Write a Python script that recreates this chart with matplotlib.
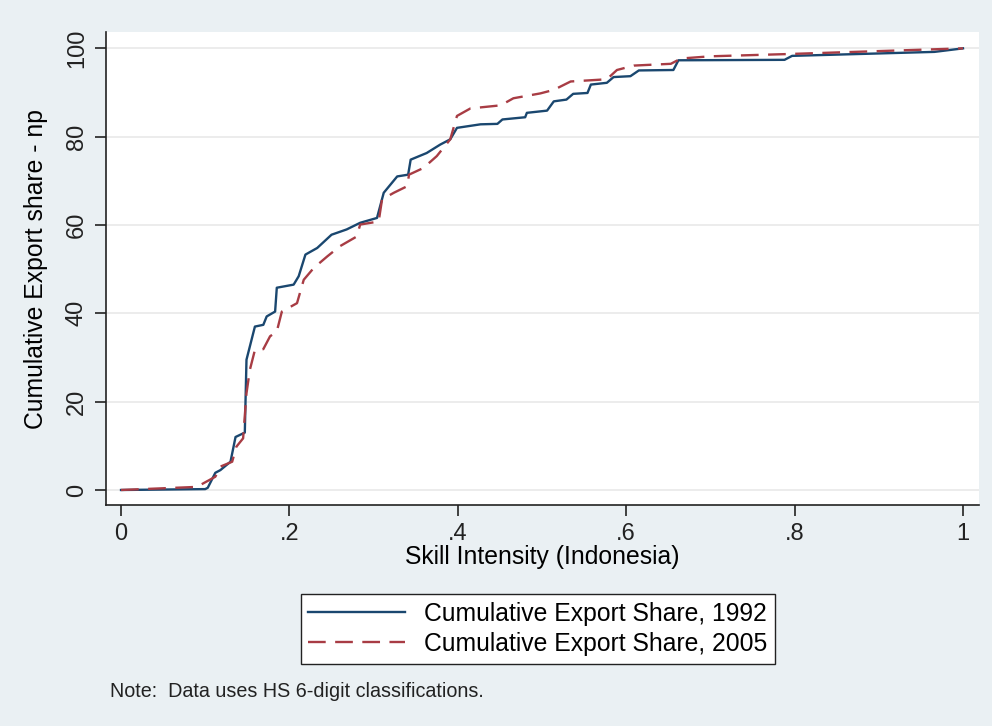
import matplotlib.pyplot as plt

plt.rcParams['font.family'] = ['Liberation Sans', 'DejaVu Sans']

# skill intensity (x) and cumulative export share (y)
x_1992 = [0, 0.10, 0.103, 0.112, 0.118, 0.13, 0.136, 0.147, 0.149, 0.159, 0.169,
          0.173, 0.183, 0.185, 0.205, 0.211, 0.219, 0.233, 0.250, 0.268, 0.284,
          0.304, 0.312, 0.328, 0.341, 0.344, 0.363, 0.379, 0.391, 0.399, 0.427,
          0.447, 0.453, 0.480, 0.482, 0.506, 0.514, 0.529, 0.537, 0.554, 0.558,
          0.577, 0.585, 0.605, 0.615, 0.656, 0.662, 0.788, 0.797, 0.966, 1.0]
y_1992 = [0, 0.2, 0.5, 3.9, 4.5, 6.4, 12, 13, 29.5, 37, 37.4,
          39.3, 40.4, 45.8, 46.5, 48.4, 53.3, 54.8, 57.8, 59, 60.5,
          61.6, 67.3, 71, 71.4, 74.8, 76.3, 78.2, 79.4, 82, 82.8,
          82.9, 83.9, 84.4, 85.4, 85.9, 88, 88.4, 89.7, 89.9, 91.8,
          92.2, 93.5, 93.7, 95, 95.1, 97.3, 97.4, 98.3, 99.2, 100]

x_2005 = [0, 0.09, 0.112, 0.118, 0.132, 0.137, 0.145, 0.149, 0.153, 0.159, 0.169,
          0.177, 0.185, 0.191, 0.209, 0.217, 0.229, 0.245, 0.260, 0.280, 0.284,
          0.306, 0.310, 0.324, 0.340, 0.342, 0.359, 0.375, 0.391, 0.399, 0.415,
          0.451, 0.466, 0.498, 0.514, 0.534, 0.577, 0.589, 0.609, 0.653, 0.665,
          0.70, 0.79, 1.0]
y_2005 = [0, 0.7, 3, 5.3, 6.4, 9.8, 11.7, 21.9, 27.2, 31.7, 31.9,
          34.8, 35.9, 40.4, 42.3, 47.6, 50.3, 52.9, 55.2, 57.4, 60.1,
          60.8, 65.8, 67.3, 68.8, 71.4, 72.9, 75.6, 79.4, 84.7, 86.4,
          87.1, 88.7, 89.8, 90.6, 92.5, 93, 95.1, 96.1, 96.5, 97.7,
          98.2, 98.7, 100]

x_ticks = [0, 0.2, 0.4, 0.6, 0.8, 1.0]
x_tick_labels = ["0", ".2", ".4", ".6", ".8", "1"]
y_ticks = [0, 20, 40, 60, 80, 100]

bg = "#eaf0f3"
fig = plt.figure(figsize=(9.92, 7.26), dpi=100, facecolor=bg)
ax = fig.add_axes([0.1069, 0.3044, 0.88, 0.6515])

ax.plot(x_1992, y_1992, color="#1a476f", lw=1.7, label="Cumulative Export Share, 1992")
ax.plot(x_2005, y_2005, color="#a83c44", lw=1.7, dashes=(7.5, 4),
        label="Cumulative Export Share, 2005")

ax.set_xlim(-0.0178, 1.019)
ax.set_ylim(-3.4, 103.7)
ax.set_xticks(x_ticks)
ax.set_xticklabels(x_tick_labels)
ax.set_yticks(y_ticks)
ax.tick_params(axis="both", direction="out", length=8, width=1.2,
               labelsize=17, pad=5, colors="#222222")
plt.setp(ax.get_yticklabels(), rotation=90, va="center")

for s in ["top", "right"]:
    ax.spines[s].set_visible(False)
for s in ["left", "bottom"]:
    ax.spines[s].set_linewidth(1.2)
    ax.spines[s].set_color("#222222")

ax.grid(axis="y", color="#eaeaea", lw=1.3)
ax.set_axisbelow(True)

ax.set_xlabel("Skill Intensity (Indonesia)", fontsize=17.8, labelpad=0)
ax.set_ylabel("Cumulative Export share - np", fontsize=17.8)
ax.yaxis.set_label_coords(-0.066, 0.5)

fig.legend(loc="center", bbox_to_anchor=(0.5423, 0.1336), ncol=1,
           fontsize=17.8, frameon=True, fancybox=False, edgecolor="#222222",
           framealpha=1, handlelength=3.9, borderpad=0.3, labelspacing=0.25)

fig.text(0.111, 0.04, "Note:  Data uses HS 6-digit classifications.",
         fontsize=14.2, color="#222222", va="baseline")

fig.savefig("out.png", dpi=100, facecolor=bg)
